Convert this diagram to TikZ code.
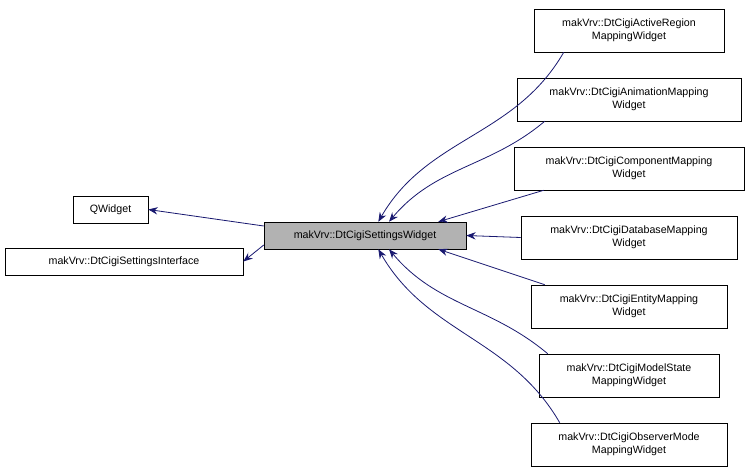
\documentclass[tikz,border=0pt]{standalone}
\usepackage{fontspec}
\setmainfont{Liberation Sans}
\usetikzlibrary{arrows.meta,positioning}
\definecolor{edgeblue}{HTML}{191970}
\tikzset{
  cls/.style={draw, inner sep=0pt, align=center, font=\fontsize{8}{9.6}\selectfont, minimum height=#1},
  cls/.default=20.25pt,
  inh/.style={edgeblue, -{Stealth[length=7pt,width=5.5pt]}, semithick}
}
\begin{document}
\begin{tikzpicture}[x=0.75pt,y=-0.75pt]
  \useasboundingbox (0,0) rectangle (749,472);
  \node[cls, minimum width=56.25pt] (qw) at (110.5,209.5) {QWidget};
  \node[cls, minimum width=178.5pt] (ifc) at (124,261.5) {makVrv::DtCigiSettingsInterface};
  \node[cls, fill=black!30, minimum width=151.5pt] (main) at (365,235.5) {makVrv::DtCigiSettingsWidget};
  \node[cls=32.25pt, minimum width=142.5pt] (c1) at (629,30.5) {makVrv::DtCigiActiveRegion\\MappingWidget};
  \node[cls=32.25pt, minimum width=168pt] (c2) at (629,99.5) {makVrv::DtCigiAnimationMapping\\Widget};
  \node[cls=32.25pt, minimum width=172.5pt] (c3) at (629,168.5) {makVrv::DtCigiComponentMapping\\Widget};
  \node[cls=32.25pt, minimum width=162pt] (c4) at (629,237.5) {makVrv::DtCigiDatabaseMapping\\Widget};
  \node[cls=32.25pt, minimum width=147pt] (c5) at (629,306.5) {makVrv::DtCigiEntityMapping\\Widget};
  \node[cls=32.25pt, minimum width=135pt] (c6) at (629,375.5) {makVrv::DtCigiModelState\\MappingWidget};
  \node[cls=32.25pt, minimum width=147pt] (c7) at (629,444.5) {makVrv::DtCigiObserverMode\\MappingWidget};
  % base classes
  \draw[inh] (main.west |- 0,226) -- (qw.east);
  \draw[inh] (main.west |- 0,245) -- (ifc.east);
  % derived classes
  \draw[inh] (c1.south west) ++(30,0) to[out=240,in=60] ([xshift=10]main.north);
  \draw[inh] (c2.south west) ++(28,0) to[out=220,in=50] ([xshift=18]main.north);
  \draw[inh] (c3.south west) ++(30,0) -- ([xshift=55]main.north);
  \draw[inh] (c4.west) -- (main.east);
  \draw[inh] (c5.north west) ++(14,0) -- ([xshift=55]main.south);
  \draw[inh] (c6.north west) ++(9,0) to[out=140,in=-50] ([xshift=18]main.south);
  \draw[inh] (c7.north west) ++(29,0) to[out=120,in=-60] ([xshift=10]main.south);
\end{tikzpicture}
\end{document}
